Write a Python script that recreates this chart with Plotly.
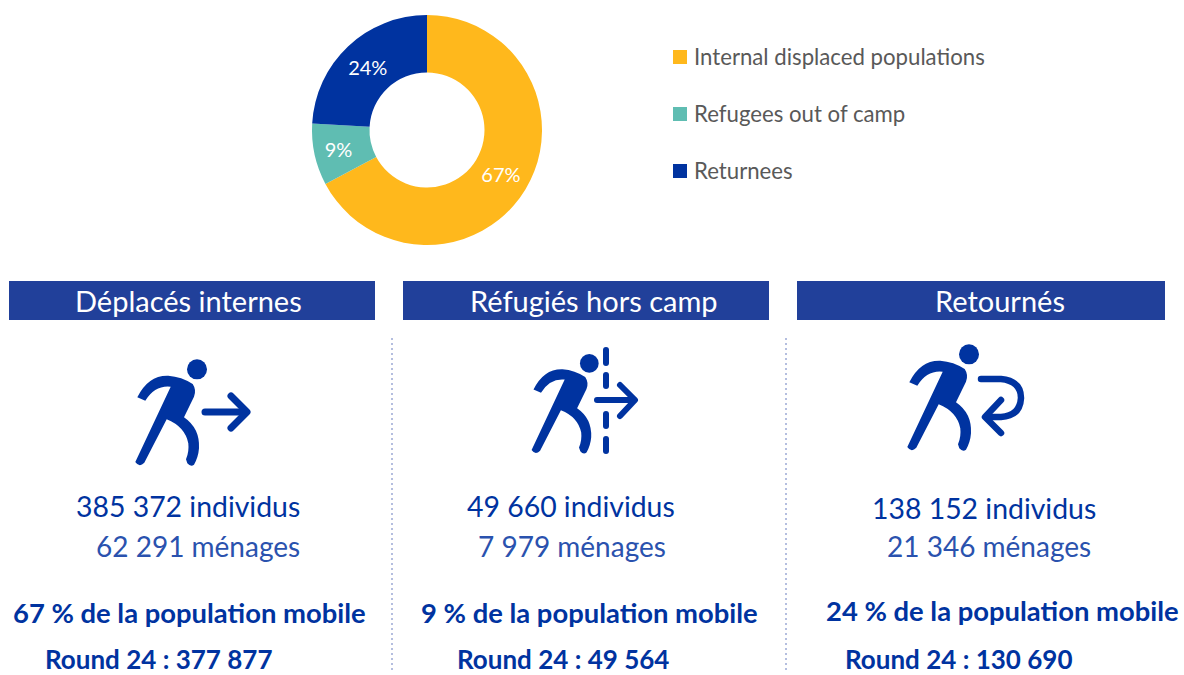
import plotly.graph_objects as go

W, H = 1184, 675
BLUE = "#0033A0"
BANNER = "#21409A"
GREY = "#595959"
FONT = "Lato"

legend_labels = ["Internal displaced populations", "Refugees out of camp", "Returnees"]
individuals = [385372, 49660, 138152]
slice_colors = ["#FFB81C", "#5FBDB2", "#0033A0"]

banner_titles = ["Déplacés internes", "Réfugiés hors camp", "Retournés"]
individus_text = ["385 372 individus", "49 660 individus", "138 152 individus"]
menages_text = ["62 291 ménages", "7 979 ménages", "21 346 ménages"]
share_text = ["67 % de la population mobile", "9 % de la population mobile", "24 % de la population mobile"]
round_text = ["Round 24 : 377 877", "Round 24 : 49 564", "Round 24 : 130 690"]

# layout (pixels)
banner_boxes = [(9, 375), (403, 769), (797, 1165)]
banner_text_x = [188, 594, 1000]
individus_pos = [(188, 506), (571, 506), (984, 508)]
menages_pos = [(198, 546), (572, 546), (989, 546)]
share_pos = [(189, 612), (589, 612), (1002, 610)]
round_pos = [(158, 658.5), (563, 658.5), (958, 658.5)]
legend_y = [56, 113, 170]

fig = go.Figure()

fig.add_trace(go.Pie(
    labels=legend_labels, values=individuals, hole=0.5, sort=False,
    direction="clockwise", rotation=0,
    marker=dict(colors=slice_colors, line=dict(width=0)),
    texttemplate="%{percent:.0%}", textposition="inside",
    insidetextorientation="horizontal",
    textfont=dict(family=FONT, size=20, color="white"),
    domain=dict(x=[312 / W, 542 / W], y=[1 - 245 / H, 1 - 15 / H]),
    showlegend=False, hoverinfo="label+percent",
))

# dotted separators
for sx in (392, 786):
    fig.add_trace(go.Scatter(
        x=[sx, sx], y=[338, 672], mode="lines", showlegend=False, hoverinfo="skip",
        line=dict(color="#B4BEDF", width=2, dash="2px,3px"),
    ))

shapes = []
annotations = []


def text(x, y, s, size, color, anchor="center", bold=False):
    annotations.append(dict(
        x=x, y=y, xref="x", yref="y", text=f"<b>{s}</b>" if bold else s, showarrow=False,
        xanchor=anchor, yanchor="middle", borderpad=0,
        font=dict(family=FONT, size=size, color=color),
    ))


# custom legend
for yy, lab, col in zip(legend_y, legend_labels, slice_colors):
    shapes.append(dict(type="rect", xref="x", yref="y", x0=673, x1=687, y0=yy - 6, y1=yy + 8,
                       fillcolor=col, line=dict(width=0)))
    text(693, yy, lab, 22.2, GREY, "left")

# banners and block texts
for (x0, x1), tx, t in zip(banner_boxes, banner_text_x, banner_titles):
    shapes.append(dict(type="rect", xref="x", yref="y", x0=x0, x1=x1, y0=281, y1=320,
                       fillcolor=BANNER, line=dict(width=0)))
    text(tx, 300, t, 29, "white")
for (x, y), t in zip(individus_pos, individus_text):
    text(x, y, t, 28.4, BLUE)
for (x, y), t in zip(menages_pos, menages_text):
    text(x, y, t, 28, "#2A52AE")
for (x, y), t in zip(share_pos, share_text):
    text(x, y, t, 27.4, BLUE, bold=True)
for (x, y), t in zip(round_pos, round_text):
    text(x, y, t, 26, BLUE, bold=True)


# icons: the figure is described in coordinates of a 3x-zoomed frame
def icon(ox, oy, s, strokes, width):
    def P(x, y):
        return f"{ox + x * s / 3:.1f},{oy + y * s / 3:.1f}"

    body = (
        f"M{P(112,172)} Q{P(145,105)} {P(205,107)} Q{P(245,110)} {P(278,132)} "
        f"Q{P(290,150)} {P(282,170)} L{P(252,232)} Q{P(300,265)} {P(297,325)} "
        f"Q{P(295,352)} {P(282,374)} Q{P(272,382)} {P(262,370)} L{P(258,358)} "
        f"Q{P(268,335)} {P(265,310)} Q{P(255,260)} {P(200,238)} L{P(133,368)} "
        f"Q{P(118,384)} {P(106,366)} L{P(212,140)} Q{P(165,135)} {P(136,182)} Z"
    )
    shapes.append(dict(type="path", xref="x", yref="y", path=body, fillcolor=BLUE, line=dict(width=0)))
    hx, hy = ox + 291 * s / 3, oy + 88 * s / 3
    r = 30 * s / 3
    shapes.append(dict(type="circle", xref="x", yref="y", x0=hx - r, x1=hx + r, y0=hy - r, y1=hy + r,
                       fillcolor=BLUE, line=dict(width=0)))
    for seg in strokes:
        shapes.append(dict(type="path", xref="x", yref="y", path=seg,
                           line=dict(color=BLUE, width=width), fillcolor="rgba(0,0,0,0)"))


icon(100, 340, 1.0, ["M205,412 L246,412", "M231,396 L247,412 L231,428"], 7)
icon(498.6, 336, 0.935, [
    "M597,400 L634,400", "M620,385 L635,400 L620,416",
    "M606,350 L606,363", "M606,375 L606,386", "M606,414 L606,426", "M606,439 L606,451",
], 6)
icon(872, 325, 1.0, [
    "M981,379 L1001,379 Q1021,381 1021,398 Q1020,416 1001,417 L987,417",
    "M1001,400 L985,417 L1001,433",
], 6.5)

fig.update_layout(
    width=W, height=H, margin=dict(l=0, r=0, t=0, b=0),
    paper_bgcolor="white", plot_bgcolor="rgba(0,0,0,0)", showlegend=False,
    xaxis=dict(range=[0, W], visible=False, fixedrange=True),
    yaxis=dict(range=[H, 0], visible=False, fixedrange=True),
    shapes=shapes, annotations=annotations,
)

post = """
document.body.style.margin='0';
var st=document.createElement('style');
st.textContent='.shapelayer path{stroke-linecap:round;stroke-linejoin:round}';
document.head.appendChild(st);
"""
fig.write_html("out.html", post_script=post, config={"displayModeBar": False})
